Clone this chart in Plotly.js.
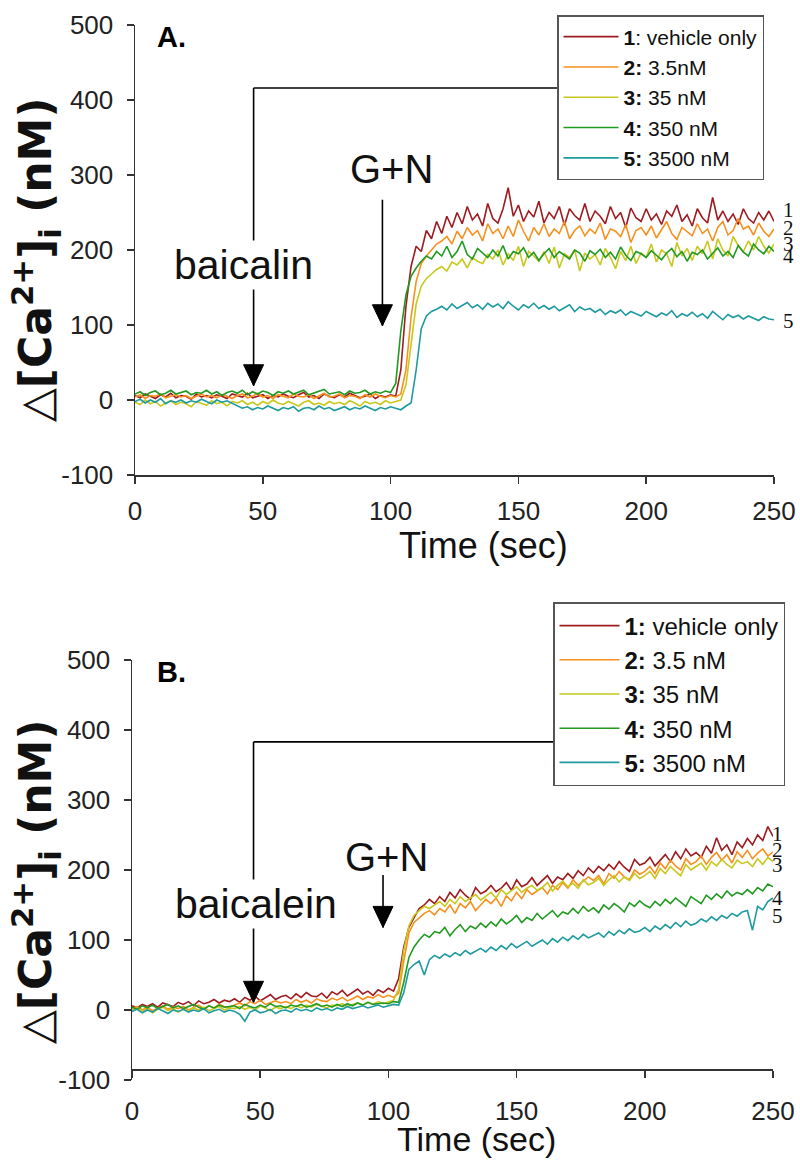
<!DOCTYPE html>
<html>
<head>
<meta charset="utf-8">
<script src="https://cdn.plot.ly/plotly-3.0.1.min.js"></script>
<style>html,body{margin:0;padding:0;background:#fff;}#chart{width:800px;height:1162px;}</style>
</head>
<body>
<div id="chart"></div>
<script>
// Time axis (sec), sampled every 2 s
const timeSec = [
  0,2,4,6,8,10,12,14,16,18,
  20,22,24,26,28,30,32,34,36,38,
  40,42,44,46,48,50,52,54,56,58,
  60,62,64,66,68,70,72,74,76,78,
  80,82,84,86,88,90,92,94,96,98,
  100,102,104,106,108,110,112,114,116,118,
  120,122,124,126,128,130,132,134,136,138,
  140,142,144,146,148,150,152,154,156,158,
  160,162,164,166,168,170,172,174,176,178,
  180,182,184,186,188,190,192,194,196,198,
  200,202,204,206,208,210,212,214,216,218,
  220,222,224,226,228,230,232,234,236,238,
  240,242,244,246,248,250
];

// Panel A (baicalin) — delta [Ca2+]i, nM
const aVehicle = [
  6,3,8,5,2,7,4,9,3,6,
  5,1,8,4,6,3,7,5,2,8,
  6,4,9,3,5,7,2,6,4,8,
  5,3,7,10,4,6,2,8,5,3,
  7,4,9,6,3,5,8,2,6,4,
  7,5,40,125,178,205,198,226,215,238,
  222,245,230,250,235,258,240,248,232,262,
  242,236,255,283,245,260,238,252,244,265,
  236,250,242,258,233,255,246,240,262,238,
  252,245,235,258,242,250,230,256,243,238,
  255,240,248,234,252,245,260,238,247,232,
  255,243,236,270,240,252,238,248,234,255,
  242,236,250,240,252,238
];
const aC3_5 = [
  4,7,2,6,5,8,3,5,7,4,
  6,2,5,8,4,6,3,7,5,2,
  6,8,3,5,9,4,6,2,7,5,
  3,8,5,4,7,2,6,9,4,5,
  8,3,6,5,2,7,4,8,5,3,
  6,4,8,40,110,158,182,192,200,208,
  212,218,208,225,215,230,220,226,212,235,
  222,228,215,232,218,240,225,212,230,220,
  235,218,228,222,238,215,226,232,219,228,
  222,236,214,228,225,218,234,210,226,230,
  220,232,216,228,238,222,214,230,225,219,
  235,222,228,212,230,238,220,226,242,228,
  232,220,236,225,218,228
];
const aC35 = [
  -3,-6,0,-5,-2,-8,-4,-1,-6,-3,
  -5,-9,-2,-4,-7,-1,-5,-3,-8,-2,
  -4,-1,-6,-3,-7,-2,-5,0,-4,-6,
  -2,-5,-8,-3,-1,-6,-4,-7,-2,-5,
  -3,-6,-1,-4,-8,-2,-5,-3,-6,-1,
  -4,-2,0,20,78,128,152,162,168,174,
  178,172,184,180,188,176,190,185,182,194,
  188,200,180,195,186,205,178,198,192,185,
  198,182,204,176,195,190,200,172,196,188,
  194,180,202,190,175,198,186,205,182,196,
  190,208,184,200,195,178,210,192,202,186,
  205,195,212,188,215,200,192,218,206,198,
  212,200,218,205,196,208
];
const aC350 = [
  8,11,6,10,12,7,9,13,8,10,
  12,7,10,9,13,8,11,6,10,12,
  9,13,7,11,8,12,10,6,11,9,
  12,8,10,13,7,9,11,14,8,10,
  11,7,12,9,10,13,8,11,9,12,
  10,22,92,140,165,176,185,192,188,198,
  192,205,190,198,212,194,188,202,196,190,
  200,192,206,188,198,195,203,190,197,186,
  195,202,190,198,193,188,200,196,185,199,
  194,201,190,197,188,204,193,186,198,195,
  190,199,193,187,196,202,191,198,185,197,
  194,200,188,196,203,192,198,190,206,197,
  192,208,200,195,205,198
];
const aC3500 = [
  -2,1,-4,0,-3,2,-5,-1,-3,0,
  -4,-1,-3,1,-2,-5,0,-3,-1,-4,
  -8,-11,-9,-13,-10,-12,-8,-11,-14,-10,
  -12,-9,-15,-11,-10,-13,-8,-12,-10,-14,
  -11,-9,-13,-10,-12,-8,-11,-14,-10,-12,
  -9,-11,-13,-8,-4,40,95,112,118,121,
  125,120,128,122,126,130,123,127,121,129,
  124,128,122,131,125,120,127,123,129,122,
  126,121,125,119,123,127,118,124,120,122,
  117,121,114,119,116,120,113,118,115,112,
  118,114,111,116,113,119,110,115,112,117,
  111,115,109,118,112,107,114,110,113,108,
  112,109,106,111,108,107
];

// Panel B (baicalein)
const bVehicle = [
  6,3,8,5,9,4,10,7,5,11,
  8,12,6,13,9,11,15,10,14,12,
  16,11,18,14,20,13,17,22,15,19,
  21,16,23,18,25,20,19,24,17,26,
  22,28,20,25,30,23,27,21,29,25,
  31,27,45,90,118,132,145,150,158,152,
  162,155,168,160,172,164,158,175,166,170,
  178,169,174,182,171,186,176,180,189,178,
  185,192,181,190,186,195,188,199,192,203,
  196,205,199,208,201,212,204,198,215,207,
  210,218,206,214,222,212,226,216,230,220,
  225,218,234,224,246,228,236,222,240,232,
  245,236,250,242,262,248
];
const bC3_5 = [
  2,5,0,4,-1,3,6,1,4,2,
  5,0,4,7,2,6,3,8,5,4,
  7,10,6,12,9,14,8,11,13,10,
  12,9,15,11,14,10,16,13,12,17,
  14,18,13,16,20,15,19,17,22,18,
  21,18,24,70,110,125,132,138,142,136,
  145,140,150,138,152,146,155,142,150,158,
  152,160,148,163,156,168,159,172,165,170,
  175,166,178,172,182,174,186,178,184,190,
  185,192,180,195,188,198,190,186,200,194,
  198,205,195,210,202,214,206,200,216,208,
  212,220,208,218,225,214,222,210,226,218,
  228,216,224,230,220,226
];
const bC35 = [
  0,3,-2,2,-4,1,4,-1,2,-3,
  1,-2,3,0,4,-1,2,5,0,3,
  2,5,1,4,0,6,3,-1,4,2,
  5,2,6,3,7,4,8,5,3,7,
  6,9,5,8,10,7,11,8,12,9,
  11,14,30,85,120,135,142,148,145,150,
  155,148,158,152,162,155,160,165,157,163,
  168,160,172,165,170,176,168,174,178,171,
  175,182,170,178,184,176,181,174,186,179,
  182,188,178,186,192,183,190,185,195,188,
  192,198,188,202,195,205,198,192,208,200,
  205,210,200,212,206,215,208,203,214,209,
  212,205,216,208,218,212
];
const bC350 = [
  4,1,6,3,7,2,5,8,3,6,
  2,5,8,4,1,6,3,7,4,5,
  6,2,8,5,3,7,4,9,5,6,
  3,7,5,8,4,6,9,5,7,4,
  8,5,9,6,10,7,11,8,9,10,
  9,12,11,40,75,90,100,108,104,112,
  110,118,106,115,122,112,120,116,124,118,
  126,120,130,123,128,135,125,132,128,138,
  130,136,142,133,140,137,145,138,148,141,
  146,139,150,144,152,147,140,153,148,156,
  150,146,155,149,158,152,160,154,148,162,
  157,152,164,158,166,160,170,163,168,165,
  172,166,175,170,180,176
];
const bC3500 = [
  -2,1,-4,0,-3,2,-1,-5,0,-2,
  1,-3,0,-2,2,-4,-1,1,-3,0,
  -2,-6,-16,-3,0,-4,-2,1,-5,-1,
  0,-3,2,-1,1,-2,3,0,2,-1,
  3,1,5,2,4,6,3,5,7,4,
  6,8,7,25,58,65,70,50,72,78,
  74,80,76,82,78,85,80,84,88,83,
  90,85,92,87,95,89,93,98,91,96,
  100,94,102,97,104,99,106,101,108,103,
  106,110,104,112,107,114,109,116,111,113,
  118,112,120,115,122,117,125,119,127,121,
  124,130,126,133,128,135,131,138,134,140,
  142,114,148,143,155,160
];

const legendA = ['<b>1</b>: vehicle only','<b>2:</b> 3.5nM','<b>3:</b> 35 nM','<b>4:</b> 350 nM','<b>5:</b> 3500 nM'];
const legendB = ['<b>1:</b> vehicle only','<b>2:</b> 3.5 nM','<b>3:</b> 35 nM','<b>4:</b> 350 nM','<b>5:</b> 3500 nM'];
const seriesColors = ['#9e1b20','#f7901e','#c8c81e','#229a22','#1e9aa0'];
const xTicks = [0,50,100,150,200,250];
const yTicks = [-100,0,100,200,300,400,500];
const yTickText = ['-100','0','100','200','300','400','500'];

const seriesA = [aVehicle,aC3_5,aC35,aC350,aC3500];
const seriesB = [bVehicle,bC3_5,bC35,bC350,bC3500];

const traces = [];
seriesA.forEach((ys,i)=>traces.push({x:timeSec,y:ys,type:'scatter',mode:'lines',name:legendA[i],
  line:{color:seriesColors[i],width:1.6},xaxis:'x',yaxis:'y',legend:'legend'}));
seriesB.forEach((ys,i)=>traces.push({x:timeSec,y:ys,type:'scatter',mode:'lines',name:legendB[i],
  line:{color:seriesColors[i],width:1.6},xaxis:'x2',yaxis:'y2',legend:'legend2'}));

const H = 1162, W = 800;
const py = v => 1 - v/H;

const axisCommon = {showgrid:false,zeroline:false,showline:true,linecolor:'#333',linewidth:1.5,
  ticks:'outside',ticklen:7,tickwidth:1.5,tickcolor:'#333',tickfont:{size:26,color:'#222'},fixedrange:true};

const annotations = [
  // panel labels
  {xref:'paper',yref:'paper',x:155/W,y:py(37),xanchor:'left',yanchor:'middle',text:'<b>A.</b>',showarrow:false,font:{size:29,color:'#000'}},
  {xref:'paper',yref:'paper',x:155/W,y:py(672),xanchor:'left',yanchor:'middle',text:'<b>B.</b>',showarrow:false,font:{size:29,color:'#000'}},
  // axis titles
  {xref:'paper',yref:'paper',x:483/W,y:py(545),xanchor:'center',yanchor:'middle',text:'Time (sec)',showarrow:false,font:{size:36,color:'#111'}},
  {xref:'paper',yref:'paper',x:477/W,y:py(1139),xanchor:'center',yanchor:'middle',text:'Time (sec)',showarrow:false,font:{size:34,color:'#111'}},
  {xref:'paper',yref:'paper',x:36/W,y:py(260),xanchor:'center',yanchor:'middle',textangle:-90,showarrow:false,
   text:'△<b>[Ca<sup>2+</sup>]<sub>i</sub> (nM)</b>',font:{size:44,family:'DejaVu Sans',color:'#111'}},
  {xref:'paper',yref:'paper',x:36/W,y:py(882),xanchor:'center',yanchor:'middle',textangle:-90,showarrow:false,
   text:'△<b>[Ca<sup>2+</sup>]<sub>i</sub> (nM)</b>',font:{size:44,family:'DejaVu Sans',color:'#111'}},
  // Panel A labels
  {xref:'x',yref:'y',x:42.3,y:180,text:'baicalin',showarrow:false,bgcolor:'#fff',font:{size:41,color:'#111'}},
  {xref:'x',yref:'y',x:100.3,y:308,text:'G+N',showarrow:false,font:{size:40,color:'#111'}},
  // Panel B labels
  {xref:'x2',yref:'y2',x:48.4,y:151,text:'baicalein',showarrow:false,bgcolor:'#fff',font:{size:41,color:'#111'}},
  {xref:'x2',yref:'y2',x:99.1,y:219,text:'G+N',showarrow:false,font:{size:40,color:'#111'}}
];
// trace number labels
const labelYA = [253,229,208,192,105];
const labelYB = [251,229,207,160,134];
['1','2','3','4','5'].forEach((t,i)=>{
  annotations.push({xref:'paper',yref:'y',x:788/W,y:labelYA[i],text:t,showarrow:false,xanchor:'center',yanchor:'middle',
    font:{size:21,family:'Liberation Serif, DejaVu Serif, serif',color:'#111'}});
  annotations.push({xref:'paper',yref:'y2',x:777/W,y:labelYB[i],text:t,showarrow:false,xanchor:'center',yanchor:'middle',
    font:{size:21,family:'Liberation Serif, DejaVu Serif, serif',color:'#111'}});
});

// arrow helper: vertical line + filled triangular head (pixel-sized)
function arrow(xr, yr, x, yTop, yTip){
  return [
    {type:'line',xref:xr,yref:yr,x0:x,x1:x,y0:yTop,y1:yTip,line:{color:'#000',width:1.6}},
    {type:'path',xref:xr,yref:yr,xsizemode:'pixel',ysizemode:'pixel',xanchor:x,yanchor:yTip,
     path:'M-10,21 L10,21 L0,0 Z',fillcolor:'#000',line:{color:'#000',width:1}}
  ];
}

const shapes = [
  {type:'line',xref:'x',yref:'y',x0:46.4,x1:165.4,y0:416,y1:416,line:{color:'#000',width:1.6}},
  {type:'line',xref:'x2',yref:'y2',x0:47.4,x1:164.2,y0:383,y1:383,line:{color:'#000',width:1.6}}
].concat(
  arrow('x','y',46.4,416,19),
  arrow('x','y',96.8,267,99),
  arrow('x2','y2',47.4,383,11),
  arrow('x2','y2',97.9,193,118)
);

const layout = {
  width:W,height:H,margin:{l:0,r:0,t:0,b:0},
  paper_bgcolor:'#fff',plot_bgcolor:'#fff',
  font:{family:'Liberation Sans, Arial, sans-serif',color:'#222'},
  showlegend:true,
  xaxis:Object.assign({},axisCommon,{domain:[135/W,774/W],range:[0,250],anchor:'y',tickvals:xTicks,ticklabelstandoff:5}),
  yaxis:Object.assign({},axisCommon,{domain:[py(475),py(25)],range:[-100,500],anchor:'x',tickvals:yTicks,ticktext:yTickText,ticklabelstandoff:8}),
  xaxis2:Object.assign({},axisCommon,{domain:[132/W,773/W],range:[0,250],anchor:'free',position:py(1069),tickvals:xTicks,ticklabelstandoff:11}),
  yaxis2:Object.assign({},axisCommon,{domain:[py(1080),py(660)],range:[-100,500],anchor:'x2',tickvals:yTicks,ticktext:yTickText,ticklabelstandoff:8}),
  legend:{x:557/W,y:py(15),xanchor:'left',yanchor:'top',bgcolor:'#fff',bordercolor:'#555',borderwidth:1.5,
    font:{size:21,color:'#111'},itemwidth:55,tracegroupgap:0},
  legend2:{x:553/W,y:py(602),xanchor:'left',yanchor:'top',bgcolor:'#fff',bordercolor:'#555',borderwidth:1.5,
    font:{size:24,color:'#111'},itemwidth:60,tracegroupgap:0},
  annotations:annotations,
  shapes:shapes
};

Plotly.newPlot('chart',traces,layout,{displayModeBar:false,staticPlot:true});
</script>
</body>
</html>
